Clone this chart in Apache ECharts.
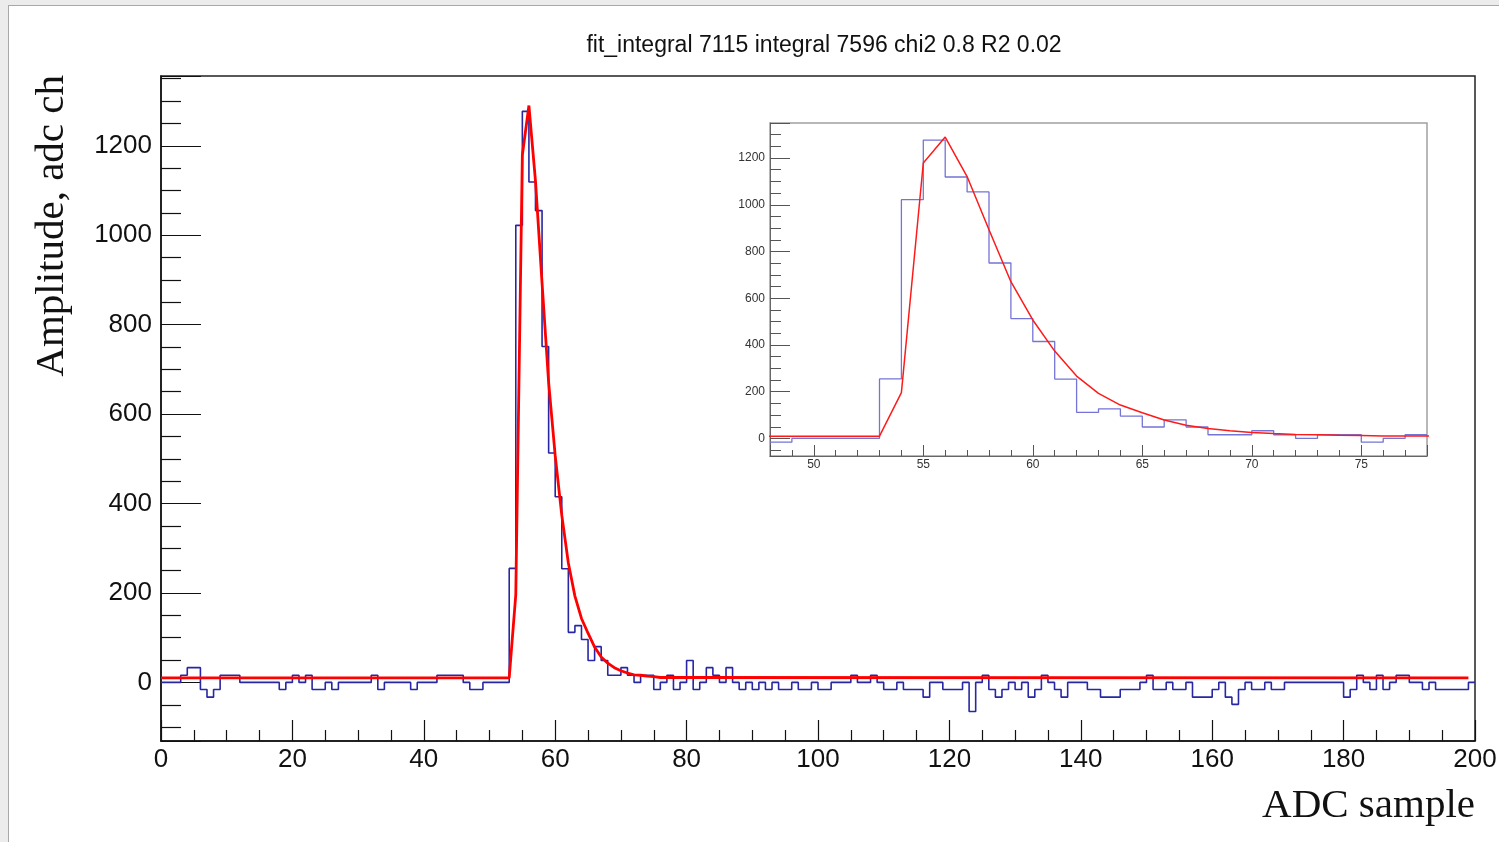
<!DOCTYPE html>
<html>
<head>
<meta charset="utf-8">
<title>ADC pulse fit</title>
<script src="https://cdn.jsdelivr.net/npm/echarts@6/dist/echarts.min.js"></script>
<style>
    html, body { margin: 0; padding: 0; background: #ececec; }
    /* white canvas of the ROOT window */
    #panel {
        position: absolute; left: 8px; top: 5px; width: 1491px; height: 837px;
        background: #fff; border-left: 1px solid #a8a8a8; border-top: 1px solid #a8a8a8;
    }
    #chart { position: absolute; left: 0; top: 0; width: 1499px; height: 842px; }
</style>
</head>
<body>
<div id="panel"></div>
<div id="chart"></div>
<script>
// histogram: one value per ADC sample, bins of width 1 starting at 0
const binStart = 0;
const histValues = [
    0, 0, 0, 16, 33, 33, -16, -33, -16, 16,
    16, 16, 0, 0, 0, 0, 0, 0, -16, 0,
    16, 0, 16, -16, -16, 0, -16, 0, 0, 0,
    0, 0, 16, -16, 0, 0, 0, 0, -16, 0,
    0, 0, 16, 16, 16, 16, 0, -16, -16, 0,
    0, 0, 0, 255, 1022, 1277, 1119, 1055, 751, 513,
    415, 254, 112, 127, 96, 49, 80, 49, 16, 16,
    33, 16, 0, 16, 16, -16, 0, 16, -16, 0,
    49, -16, 0, 33, 16, 0, 33, 0, -16, 0,
    -16, 0, -16, 0, -16, -16, 0, -16, -16, 0,
    -16, -16, 0, 0, 0, 16, 0, 0, 16, 0,
    -16, -16, 0, -16, -16, -16, -33, 0, 0, -16,
    -16, -16, 0, -65, 0, 16, -16, -33, -16, 0,
    -16, 0, -33, -16, 16, 0, -16, -33, 0, 0,
    0, -16, -16, -33, -33, -33, -16, -16, -16, 0,
    16, -16, -16, 0, -16, -16, 0, -33, -33, -33,
    -16, 0, -33, -49, -16, 0, -16, -16, 0, -16,
    -16, 0, 0, 0, 0, 0, 0, 0, 0, 0,
    -33, -16, 16, 0, -16, 16, -16, 0, 16, 16,
    0, 0, -16, 0, -16, -16, -16, -16, -16, 0
];

// fitted pulse shape (red curve)
const fitX = [0, 53, 54, 55, 56, 57, 58, 59, 60, 61, 62, 63, 64, 65, 66, 67, 68, 69, 70, 71, 72, 73, 74, 75, 76, 77, 78, 199];
const fitY = [10, 10, 196, 1179, 1290, 1121, 893, 671, 507, 374, 267, 193, 143, 110, 79, 57, 43, 33, 26, 21, 17, 16, 14, 13, 11, 11, 11, 10];

// zoomed window
const zoomFrom = 48;
const zoomTo = 78;

const titleText = 'fit_integral 7115 integral 7596 chi2 0.8 R2 0.02';
const xTitle = 'ADC sample';
const yTitle = 'Amplitude, adc ch';

// step points: each bin drawn flat from its low edge to the next one
const histPoints = (from, to) => {
    const pts = [];
    for (let i = from; i < to; i++) {
        pts.push([binStart + i, histValues[i]]);
    }
    pts.push([binStart + to, histValues[to - 1]]);
    return pts;
};
const fitPoints = fitX.map((x, i) => [x, fitY[i]]);

const sansFont = '"Liberation Sans", Arial, sans-serif';
const serifFont = '"Liberation Serif", "Times New Roman", serif';
// ROOT prints plain numbers, no thousands separator
const plainNumber = (v) => String(v);

const chart = echarts.init(document.getElementById('chart'), null, { renderer: 'canvas' });

const mainAxisCommon = {
    axisLine: { show: true, onZero: false, lineStyle: { color: '#111', width: 1.5 } },
    axisTick: { show: true, inside: true, lineStyle: { color: '#111', width: 1.2 } },
    minorTick: { show: true, lineStyle: { color: '#111', width: 1.2 } },
    splitLine: { show: false },
    axisLabel: { color: '#111', fontFamily: sansFont, fontSize: 26, formatter: plainNumber }
};

const insetAxisCommon = {
    axisLine: { show: true, onZero: false, lineStyle: { color: '#666', width: 1 } },
    axisTick: { show: true, inside: true, lineStyle: { color: '#555', width: 1 } },
    minorTick: { show: true, lineStyle: { color: '#555', width: 1 } },
    splitLine: { show: false },
    axisLabel: { color: '#333', fontFamily: sansFont, fontSize: 12, formatter: plainNumber }
};

const option = {
    animation: false,
    backgroundColor: 'transparent',
    grid: [
        {
            left: 161, top: 76, width: 1314, height: 665,
            show: true, borderColor: '#222', borderWidth: 1.5, backgroundColor: 'transparent',
            outerBoundsMode: 'none'
        },
        {
            left: 770, top: 123, width: 657, height: 333,
            show: true, borderColor: '#a0a0a0', borderWidth: 1.5, backgroundColor: '#fff',
            outerBoundsMode: 'none'
        }
    ],
    xAxis: [
        Object.assign({}, mainAxisCommon, {
            type: 'value', gridIndex: 0, min: 0, max: 200, interval: 20,
            axisTick: Object.assign({}, mainAxisCommon.axisTick, { length: 21 }),
            minorTick: Object.assign({}, mainAxisCommon.minorTick, { splitNumber: 4, length: 11 }),
            axisLabel: Object.assign({}, mainAxisCommon.axisLabel, { margin: 6 })
        }),
        Object.assign({}, insetAxisCommon, {
            type: 'value', gridIndex: 1, min: zoomFrom, max: zoomTo, splitNumber: 6,
            axisTick: Object.assign({}, insetAxisCommon.axisTick, { length: 11 }),
            minorTick: Object.assign({}, insetAxisCommon.minorTick, { splitNumber: 5, length: 6 }),
            axisLabel: Object.assign({}, insetAxisCommon.axisLabel, { margin: 3, showMinLabel: false, showMaxLabel: false })
        })
    ],
    yAxis: [
        Object.assign({}, mainAxisCommon, {
            type: 'value', gridIndex: 0, min: -131, max: 1356, splitNumber: 7,
            axisTick: Object.assign({}, mainAxisCommon.axisTick, { length: 40 }),
            minorTick: Object.assign({}, mainAxisCommon.minorTick, { splitNumber: 4, length: 20 }),
            axisLabel: Object.assign({}, mainAxisCommon.axisLabel, { margin: 9, showMinLabel: false, showMaxLabel: false })
        }),
        Object.assign({}, insetAxisCommon, {
            type: 'value', gridIndex: 1, min: -75, max: 1350, splitNumber: 7,
            axisTick: Object.assign({}, insetAxisCommon.axisTick, { length: 20 }),
            minorTick: Object.assign({}, insetAxisCommon.minorTick, { splitNumber: 4, length: 11 }),
            axisLabel: Object.assign({}, insetAxisCommon.axisLabel, { margin: 5, showMinLabel: false, showMaxLabel: false })
        })
    ],
    series: [
        {
            name: 'hist', type: 'line', xAxisIndex: 0, yAxisIndex: 0,
            step: 'end', symbol: 'none', data: histPoints(0, histValues.length),
            lineStyle: { color: '#2727a3', width: 1.6 }, z: 2
        },
        {
            name: 'fit', type: 'line', xAxisIndex: 0, yAxisIndex: 0,
            symbol: 'none', data: fitPoints,
            lineStyle: { color: '#ff0000', width: 2.8 }, z: 3
        },
        {
            name: 'hist zoom', type: 'line', xAxisIndex: 1, yAxisIndex: 1,
            step: 'end', symbol: 'none', data: histPoints(zoomFrom, zoomTo),
            lineStyle: { color: '#7474d6', width: 1.3 }, z: 4
        },
        {
            name: 'fit zoom', type: 'line', xAxisIndex: 1, yAxisIndex: 1,
            symbol: 'none', data: fitPoints, clip: true,
            lineStyle: { color: '#ff1a1a', width: 1.5 }, z: 5
        }
    ],
    graphic: [
        {
            type: 'text', x: 824, y: 46,
            style: { text: titleText, align: 'center', verticalAlign: 'middle', fill: '#111', font: '23px ' + sansFont }
        },
        {
            type: 'text', x: 1475, y: 806,
            style: { text: xTitle, align: 'right', verticalAlign: 'middle', fill: '#111', font: '41px ' + serifFont }
        },
        {
            type: 'text', x: 52, y: 75, rotation: Math.PI / 2,
            style: { text: yTitle, align: 'right', verticalAlign: 'middle', fill: '#111', font: '41px ' + serifFont }
        }
    ]
};

chart.setOption(option);
</script>
</body>
</html>
